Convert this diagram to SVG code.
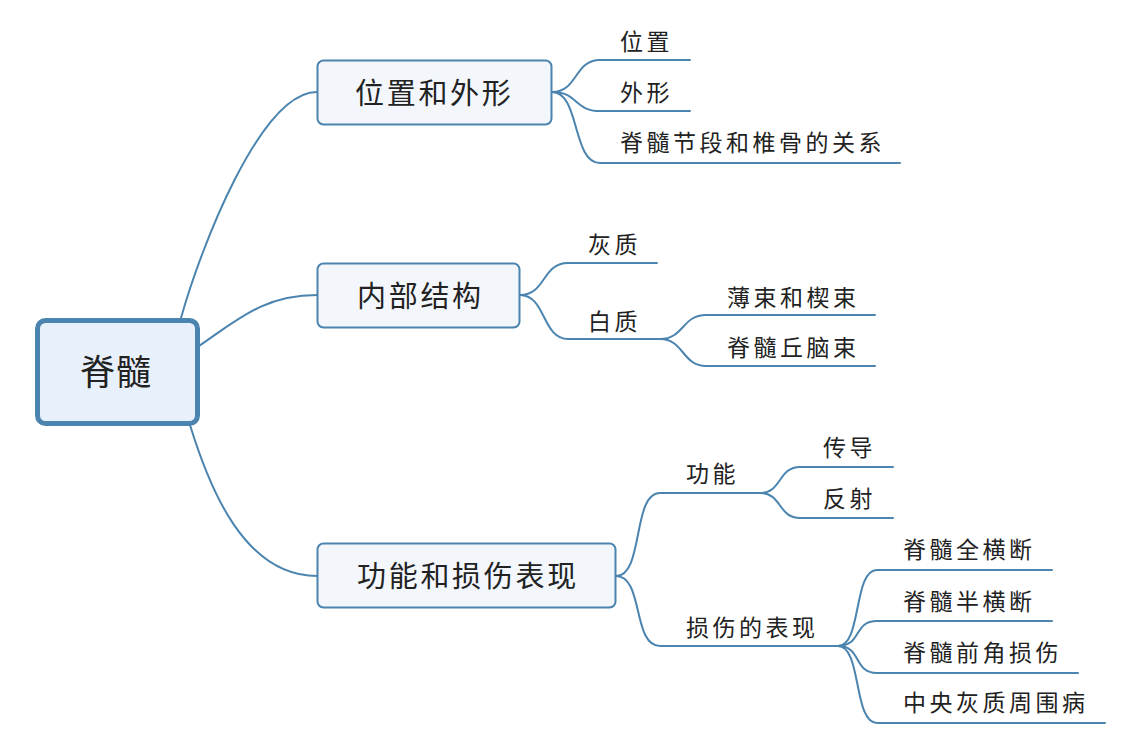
<svg xmlns="http://www.w3.org/2000/svg" width="1136" height="745" viewBox="0 0 1136 745">
<style>
.c{fill:none;stroke:#4b84ae;stroke-width:2;stroke-linecap:round}
.root{fill:#e8f1fb;stroke:#4b84ae;stroke-width:5}
.br{fill:#f3f7fc;stroke:#4b84ae;stroke-width:2}
text{font-family:"Noto Sans CJK SC","Noto Sans CJK JP",sans-serif;fill:#222222}
.t0{font-size:35px;letter-spacing:1px}
.t1{font-size:29px;letter-spacing:2.7px}
.t2{font-size:23px;letter-spacing:3.5px}
</style>
<rect width="1136" height="745" fill="#ffffff"/>
<g id="connectors">
<path class="c" d="M181 318 C200 250,260 92,317 92"/>
<path class="c" d="M199 346 C240 318,265 295,317 295"/>
<path class="c" d="M190 425 C210 490,245 576,317 576"/>
<path class="c" d="M552 92 C578 92,574 60,600 60 L690 60"/>
<path class="c" d="M552 92 C578 92,574 111,600 111 L690 111"/>
<path class="c" d="M552 92 C580 92,572 163,600 163 L900 163"/>
<path class="c" d="M520 295 C546 295,542 263,568 263 L657 263"/>
<path class="c" d="M520 295 C546 295,542 339,568 339 L660 339"/>
<path class="c" d="M660 339 C684 339,682 315,706 315 L875 315"/>
<path class="c" d="M660 339 C684 339,682 366,706 366 L875 366"/>
<path class="c" d="M616 576 C644 576,632 493,660 493 L760 493"/>
<path class="c" d="M616 576 C644 576,632 646,660 646 L838 646"/>
<path class="c" d="M760 493 C782 493,778 467,800 467 L893 467"/>
<path class="c" d="M760 493 C782 493,778 518,800 518 L893 518"/>
<path class="c" d="M838 646 C862 646,853 570,877 570 L1052 570"/>
<path class="c" d="M838 646 C862 646,853 621,877 621 L1052 621"/>
<path class="c" d="M838 646 C862 646,853 673,877 673 L1078 673"/>
<path class="c" d="M838 646 C862 646,853 723,877 723 L1105 723"/>
</g>
<g id="root">
<rect class="root" x="37.5" y="320.5" width="160" height="103" rx="8"/>
<text class="t0" x="80" y="384.5">脊髓</text>
</g>
<g id="b1">
<rect class="br" x="317.5" y="60.5" width="234" height="64" rx="6"/>
<text class="t1" x="355" y="104">位置和外形</text>
</g>
<g id="b2">
<rect class="br" x="317.5" y="263.5" width="202" height="64" rx="6"/>
<text class="t1" x="357" y="307">内部结构</text>
</g>
<g id="b3">
<rect class="br" x="317.5" y="543.5" width="298" height="64" rx="6"/>
<text class="t1" x="357" y="587">功能和损伤表现</text>
</g>
<g id="s1"><text class="t2" x="620" y="49.5">位置</text></g>
<g id="s2"><text class="t2" x="620" y="100.5">外形</text></g>
<g id="s3"><text class="t2" x="620" y="150.5">脊髓节段和椎骨的关系</text></g>
<g id="s4"><text class="t2" x="588" y="252.5">灰质</text></g>
<g id="s5"><text class="t2" x="588" y="329.5">白质</text></g>
<g id="s6"><text class="t2" x="727" y="305.5">薄束和楔束</text></g>
<g id="s7"><text class="t2" x="727" y="355.5">脊髓丘脑束</text></g>
<g id="s8"><text class="t2" x="686" y="481.5">功能</text></g>
<g id="s9"><text class="t2" x="823" y="455.5">传导</text></g>
<g id="s10"><text class="t2" x="823" y="506.5">反射</text></g>
<g id="s11"><text class="t2" x="686" y="635.5">损伤的表现</text></g>
<g id="s12"><text class="t2" x="903" y="557.5">脊髓全横断</text></g>
<g id="s13"><text class="t2" x="903" y="609.5">脊髓半横断</text></g>
<g id="s14"><text class="t2" x="903" y="660.5">脊髓前角损伤</text></g>
<g id="s15"><text class="t2" x="903" y="710.5">中央灰质周围病</text></g>
</svg>
